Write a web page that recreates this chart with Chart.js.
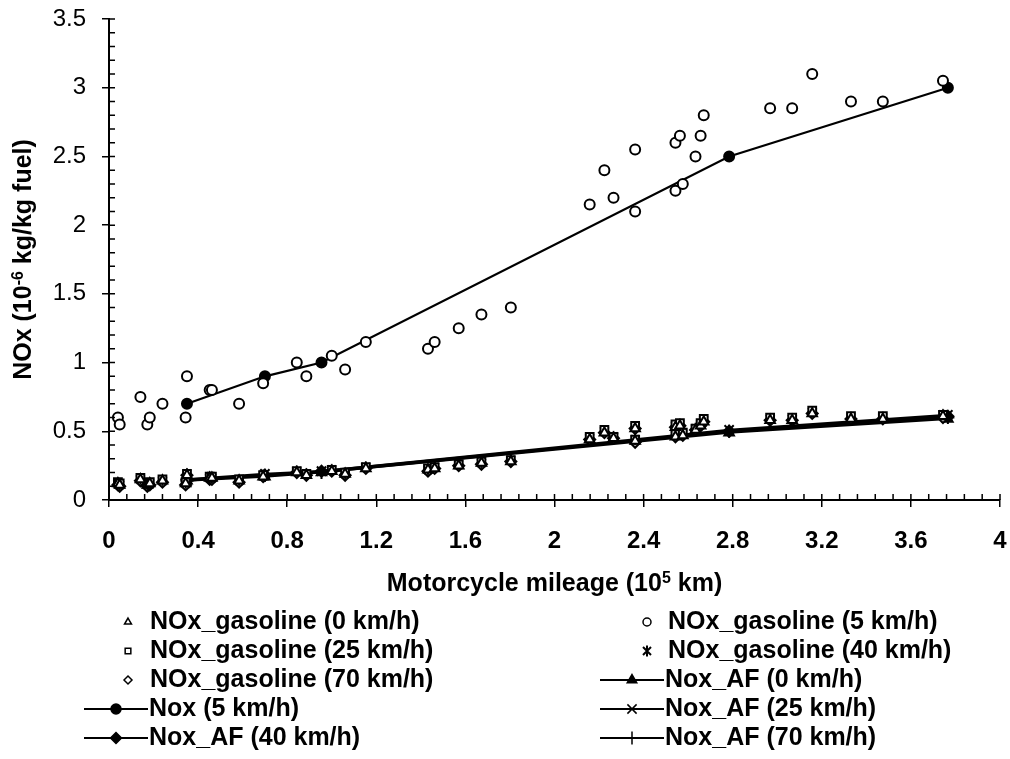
<!DOCTYPE html>
<html>
<head>
<meta charset="utf-8">
<script src="https://cdn.jsdelivr.net/npm/chart.js@4.4.1/dist/chart.umd.min.js"></script>
<style>
html, body { margin: 0; padding: 0; background: #fff; }
#wrap { width: 1010px; height: 759px; }
</style>
</head>
<body>
<div id="wrap"><canvas id="noxChart" width="1010" height="759"></canvas></div>
<script>
// mileage of each motorcycle (10^5 km)
const mileage = [0.04, 0.048, 0.141, 0.172, 0.183, 0.24, 0.344, 0.35, 0.452, 0.462,
  0.584, 0.692, 0.843, 0.886, 1.0, 1.06, 1.153, 1.432, 1.462, 1.57,
  1.672, 1.804, 2.158, 2.224, 2.265, 2.362, 2.362, 2.543, 2.563, 2.543,
  2.576, 2.633, 2.656, 2.67, 2.968, 3.067, 3.157, 3.331, 3.474, 3.744];

const noxGas5 = [0.60, 0.55, 0.75, 0.55, 0.60, 0.70, 0.60, 0.90, 0.80, 0.80,
  0.70, 0.85, 1.00, 0.90, 1.05, 0.95, 1.15, 1.10, 1.15, 1.25,
  1.35, 1.40, 2.15, 2.40, 2.20, 2.55, 2.10, 2.60, 2.65, 2.25,
  2.30, 2.50, 2.65, 2.80, 2.85, 2.85, 3.10, 2.90, 2.90, 3.05];
const noxGas0 = [0.12, 0.11, 0.15, 0.11, 0.12, 0.14, 0.12, 0.18, 0.16, 0.16,
  0.14, 0.17, 0.20, 0.18, 0.21, 0.19, 0.23, 0.22, 0.23, 0.25,
  0.27, 0.28, 0.44, 0.49, 0.45, 0.52, 0.43, 0.53, 0.54, 0.46,
  0.47, 0.51, 0.54, 0.57, 0.58, 0.58, 0.63, 0.59, 0.59, 0.61];
const noxGas25 = [0.13, 0.12, 0.16, 0.12, 0.13, 0.15, 0.13, 0.19, 0.17, 0.17,
  0.15, 0.18, 0.21, 0.19, 0.22, 0.20, 0.24, 0.23, 0.24, 0.26,
  0.28, 0.29, 0.46, 0.51, 0.46, 0.54, 0.44, 0.55, 0.56, 0.48,
  0.49, 0.52, 0.56, 0.59, 0.60, 0.60, 0.65, 0.61, 0.61, 0.62];
const noxGas40 = [0.12, 0.11, 0.15, 0.11, 0.12, 0.14, 0.12, 0.19, 0.16, 0.16,
  0.14, 0.18, 0.21, 0.19, 0.22, 0.19, 0.24, 0.22, 0.24, 0.26,
  0.27, 0.29, 0.45, 0.50, 0.46, 0.53, 0.44, 0.54, 0.55, 0.47,
  0.48, 0.52, 0.55, 0.58, 0.59, 0.59, 0.64, 0.60, 0.60, 0.62];
const noxGas70 = [0.11, 0.10, 0.14, 0.10, 0.11, 0.13, 0.11, 0.18, 0.15, 0.15,
  0.13, 0.17, 0.20, 0.18, 0.21, 0.18, 0.23, 0.21, 0.23, 0.25,
  0.26, 0.28, 0.44, 0.49, 0.45, 0.52, 0.42, 0.53, 0.54, 0.46,
  0.47, 0.51, 0.54, 0.57, 0.58, 0.58, 0.63, 0.59, 0.59, 0.60];

// fitted lines
const fitMileage = [0.35, 0.70, 0.954, 2.784, 3.766];
const nox5 = [0.70, 0.90, 1.00, 2.50, 3.00];
const noxAF0 = [0.14, 0.17, 0.20, 0.49, 0.59];
const noxAF25 = [0.15, 0.19, 0.21, 0.51, 0.62];
const noxAF40 = [0.15, 0.18, 0.21, 0.50, 0.61];
const noxAF70 = [0.14, 0.18, 0.20, 0.50, 0.60];

const xTicks = [0, 0.4, 0.8, 1.2, 1.6, 2, 2.4, 2.8, 3.2, 3.6, 4];
const yTicks = [0, 0.5, 1, 1.5, 2, 2.5, 3, 3.5];

const FONT = '"Liberation Sans", Arial, sans-serif';

// asterisk marker (x with a vertical bar)
const star = document.createElement('canvas');
star.width = 14; star.height = 14;
(function () {
  const c = star.getContext('2d');
  c.strokeStyle = '#000'; c.lineWidth = 2;
  c.beginPath();
  c.moveTo(3, 3); c.lineTo(11, 11);
  c.moveTo(11, 3); c.lineTo(3, 11);
  c.moveTo(7, 1.5); c.lineTo(7, 12.5);
  c.stroke();
})();

function pts(xs, ys) {
  return xs.map((x, i) => ({ x: x, y: ys[i] }));
}

function gasSet(label, ys, style, r) {
  return {
    label: label, data: pts(mileage, ys), showLine: false,
    pointStyle: style, pointRadius: r, pointHoverRadius: r,
    pointBackgroundColor: '#fff', pointBorderColor: '#000', pointBorderWidth: 2
  };
}
function fitSet(label, ys, style, r) {
  return {
    label: label, data: pts(fitMileage, ys), showLine: true,
    borderColor: '#000', borderWidth: 2.2, backgroundColor: '#000',
    pointStyle: style, pointRadius: r, pointHoverRadius: r,
    pointBackgroundColor: '#000', pointBorderColor: '#000', pointBorderWidth: 2
  };
}

const datasets = [
  gasSet('NOx_gasoline (0 km/h)', noxGas0, 'triangle', 5.5),
  gasSet('NOx_gasoline (5 km/h)', noxGas5, 'circle', 5),
  gasSet('NOx_gasoline (25 km/h)', noxGas25, 'rect', 5.5),
  gasSet('NOx_gasoline (40 km/h)', noxGas40, star, 5),
  gasSet('NOx_gasoline (70 km/h)', noxGas70, 'rectRot', 5.5),
  fitSet('Nox_AF (0 km/h)', noxAF0, 'triangle', 5.5),
  fitSet('Nox (5 km/h)', nox5, 'circle', 5),
  fitSet('Nox_AF (25 km/h)', noxAF25, 'crossRot', 6.5),
  fitSet('Nox_AF (40 km/h)', noxAF40, 'rectRot', 5.5),
  fitSet('Nox_AF (70 km/h)', noxAF70, 'cross', 6.5)
];

// legend grid (two columns)
const legendRows = [622, 651, 680, 709, 738];

function drawMarker(ctx, ds, x, y, r) {
  const style = ds.pointStyle;
  if (style instanceof HTMLCanvasElement) {
    ctx.drawImage(style, x - 7, y - 7);
    return;
  }
  ctx.save();
  ctx.fillStyle = ds.pointBackgroundColor;
  ctx.strokeStyle = '#000';
  ctx.lineWidth = 1.5;
  Chart.helpers.drawPoint(ctx, { pointStyle: style, radius: r, rotation: 0, borderWidth: 1.5 }, x, y);
  ctx.restore();
}

function drawRich(ctx, parts, x0, y0, centred) {
  const big = 'bold 25px ' + FONT, small = 'bold 16px ' + FONT;
  let w = 0;
  parts.forEach(p => {
    ctx.font = p.sup ? small : big;
    w += ctx.measureText(p.t).width;
  });
  let x = centred ? x0 - w / 2 : x0;
  parts.forEach(p => {
    ctx.font = p.sup ? small : big;
    ctx.fillText(p.t, x, p.sup ? y0 - 8 : y0);
    x += ctx.measureText(p.t).width;
  });
}

const decorPlugin = {
  id: 'decor',
  afterDraw(chart) {
    const ctx = chart.ctx;
    const xs = chart.scales.x, ys = chart.scales.y;
    const a = chart.chartArea;
    ctx.save();
    // minor and inner ticks
    ctx.strokeStyle = '#000';
    ctx.lineWidth = 1.5;
    ctx.beginPath();
    for (let i = 0; i <= 50; i++) {
      const px = xs.getPixelForValue(i * 0.08);
      ctx.moveTo(px, a.bottom);
      ctx.lineTo(px, a.bottom - 6);
    }
    for (let i = 0; i <= 35; i++) {
      const py = ys.getPixelForValue(i * 0.1);
      ctx.moveTo(a.left, py);
      ctx.lineTo(a.left + 6, py);
    }
    ctx.stroke();

    // axis titles
    ctx.fillStyle = '#000';
    ctx.textAlign = 'left';
    ctx.textBaseline = 'alphabetic';
    drawRich(ctx, [{ t: 'Motorcycle mileage (10' }, { t: '5', sup: true }, { t: ' km)' }], (a.left + a.right) / 2, 591, true);
    ctx.save();
    ctx.translate(31, (a.top + a.bottom) / 2);
    ctx.rotate(-Math.PI / 2);
    drawRich(ctx, [{ t: 'NOx (10' }, { t: '-6', sup: true }, { t: ' kg/kg fuel)' }], 0, 0, true);
    ctx.restore();

    // legend
    ctx.font = 'bold 25px ' + FONT;
    ctx.textBaseline = 'middle';
    chart.data.datasets.forEach((ds, i) => {
      const col = i % 2;
      const y = legendRows[Math.floor(i / 2)];
      if (ds.showLine) {
        const x0 = col ? 600 : 84, x1 = col ? 664 : 148;
        ctx.beginPath();
        ctx.lineWidth = 2.2;
        ctx.moveTo(x0, y); ctx.lineTo(x1, y);
        ctx.stroke();
        drawMarker(ctx, ds, (x0 + x1) / 2, y, ds.pointRadius);
        ctx.fillText(ds.label, col ? 665 : 149, y);
      } else {
        drawMarker(ctx, ds, col ? 647 : 128, y, 4);
        ctx.fillText(ds.label, col ? 668 : 150, y);
      }
    });
    ctx.restore();
  }
};

new Chart(document.getElementById('noxChart'), {
  type: 'scatter',
  data: { datasets: datasets },
  options: {
    responsive: false,
    animation: false,
    layout: { padding: { top: 19, right: 10, bottom: 0, left: 0 } },
    plugins: { legend: { display: false }, tooltip: { enabled: false } },
    scales: {
      x: {
        type: 'linear', min: 0, max: 4,
        afterFit(s) { s.height = 259; s.paddingLeft = 0; s.paddingRight = 0; },
        afterBuildTicks(s) { s.ticks = xTicks.map(v => ({ value: v })); },
        grid: { drawOnChartArea: false, drawTicks: true, tickLength: 7, color: '#000', lineWidth: 1.5 },
        border: { display: true, color: '#000', width: 2 },
        ticks: { color: '#000', padding: 20, font: { family: FONT, size: 24, weight: 'bold' }, callback: v => String(v) }
      },
      y: {
        min: 0, max: 3.5,
        afterFit(s) { s.width = 109; s.paddingTop = 0; s.paddingBottom = 0; },
        afterBuildTicks(s) { s.ticks = yTicks.map(v => ({ value: v })); },
        grid: { drawOnChartArea: false, drawTicks: true, tickLength: 7, color: '#000', lineWidth: 1.5 },
        border: { display: true, color: '#000', width: 2 },
        ticks: { color: '#000', padding: 16, font: { family: FONT, size: 24 }, callback: v => String(v) }
      }
    }
  },
  plugins: [decorPlugin]
});
</script>
</body>
</html>
